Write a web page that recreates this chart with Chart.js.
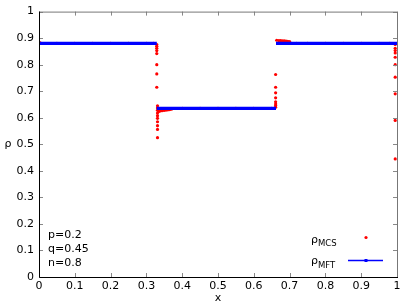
<!DOCTYPE html>
<html>
<head>
<meta charset="utf-8">
<script src="https://cdn.jsdelivr.net/npm/chart.js@4/dist/chart.umd.min.js"></script>
<style>
  html, body { margin: 0; padding: 0; background: #fff; }
  #wrap { width: 409px; height: 307px; }
</style>
</head>
<body>
<div id="wrap"><canvas id="myChart"></canvas></div>
<script>
// tick labels
var xTicks = [0, 0.1, 0.2, 0.3, 0.4, 0.5, 0.6, 0.7, 0.8, 0.9, 1];
var yTicks = [0, 0.1, 0.2, 0.3, 0.4, 0.5, 0.6, 0.7, 0.8, 0.9, 1];

// mean field profile (null = break between segments)
var mftX = [0, 0.329, 0.33, 0.329, 0.662, 0.663, 0.662, 1];
var mftY = [0.88, 0.88, null, 0.635, 0.635, null, 0.88, 0.88];

// Monte Carlo points
var mcsX = [0, 0.003, 0.05, 0.1, 0.15, 0.2, 0.25, 0.3, 0.32,
  0.329, 0.329, 0.329, 0.329, 0.329, 0.329, 0.329, 0.329,
  0.331, 0.331, 0.331, 0.331, 0.331, 0.331, 0.331, 0.331, 0.331, 0.331,
  0.335, 0.34, 0.345, 0.35, 0.355, 0.36, 0.365, 0.37,
  0.4, 0.45, 0.5, 0.55, 0.6, 0.65,
  0.661, 0.661, 0.661, 0.661, 0.661, 0.661, 0.661, 0.661,
  0.664, 0.67, 0.675, 0.68, 0.685, 0.69, 0.695, 0.70,
  0.72, 0.75, 0.8, 0.85, 0.9, 0.95, 0.98,
  0.995, 0.995, 0.995, 0.995, 0.995, 0.995, 0.995, 0.995, 0.995, 0.995];
var mcsY = [0.884, 0.882, 0.88, 0.88, 0.88, 0.88, 0.88, 0.88, 0.88,
  0.876, 0.869, 0.862, 0.853, 0.842, 0.80, 0.765, 0.715,
  0.645, 0.637, 0.628, 0.618, 0.608, 0.598, 0.585, 0.570, 0.556, 0.525,
  0.624, 0.626, 0.627, 0.628, 0.629, 0.63, 0.631, 0.632,
  0.635, 0.635, 0.635, 0.635, 0.635, 0.635,
  0.64, 0.646, 0.652, 0.66, 0.675, 0.694, 0.715, 0.763,
  0.892, 0.891, 0.891, 0.89, 0.89, 0.889, 0.888, 0.887,
  0.88, 0.88, 0.88, 0.88, 0.88, 0.88, 0.88,
  0.876, 0.862, 0.853, 0.844, 0.828, 0.80, 0.753, 0.69, 0.59, 0.445];

var params = ['p=0.2', 'q=0.45', 'n=0.8'];

function pts(xs, ys) {
  return xs.map(function (x, i) { return { x: x, y: ys[i] }; });
}

var FONT = '"DejaVu Sans", sans-serif';

// frame with inward ticks, axis titles, parameter text and legend
var decor = {
  id: 'decor',
  afterDraw: function (chart) {
    var c = chart.ctx, a = chart.chartArea;
    var sx = chart.scales.x, sy = chart.scales.y;
    c.save();
    c.lineWidth = 1;
    c.strokeStyle = '#888';
    c.beginPath();
    xTicks.forEach(function (v) {
      var px = Math.round(sx.getPixelForValue(v)) + 0.5;
      c.moveTo(px, a.bottom); c.lineTo(px, a.bottom - 4);
      c.moveTo(px, a.top); c.lineTo(px, a.top + 4);
    });
    yTicks.forEach(function (v) {
      var py = Math.round(sy.getPixelForValue(v)) + 0.5;
      c.moveTo(a.left, py); c.lineTo(a.left + 4, py);
      c.moveTo(a.right, py); c.lineTo(a.right - 4, py);
    });
    c.stroke();
    c.strokeStyle = '#777';
    c.beginPath();
    c.moveTo(a.left, a.top + 0.5); c.lineTo(a.right + 0.5, a.top + 0.5); c.lineTo(a.right + 0.5, a.bottom);
    c.stroke();
    c.strokeStyle = '#000';
    c.beginPath();
    c.moveTo(a.left + 0.5, a.top); c.lineTo(a.left + 0.5, a.bottom + 0.5); c.lineTo(a.right + 1, a.bottom + 0.5);
    c.stroke();

    c.fillStyle = '#000';
    c.font = '11px ' + FONT;
    c.textAlign = 'center';
    c.textBaseline = 'middle';
    c.fillText('x', (a.left + a.right) / 2, 298);
    c.fillText('\u03c1', 8, (a.top + a.bottom) / 2);

    c.textAlign = 'left';
    params.forEach(function (t, i) {
      c.fillText(t, a.left + 9, 235 + i * 14);
    });

    // legend
    c.textBaseline = 'alphabetic';
    c.font = '11px ' + FONT;
    c.fillText('\u03c1', 311, 242.5);
    c.fillText('\u03c1', 311, 264);
    c.font = '8.5px ' + FONT;
    c.fillText('MCS', 318, 245.5);
    c.fillText('MFT', 318, 267.5);

    c.fillStyle = '#f00';
    c.beginPath(); c.arc(366, 237.5, 1.6, 0, Math.PI * 2); c.fill();
    c.strokeStyle = '#00f';
    c.lineWidth = 1.5;
    c.beginPath(); c.moveTo(348, 260.5); c.lineTo(383, 260.5); c.stroke();
    c.fillStyle = '#00f';
    c.fillRect(364.5, 259, 3, 3);
    c.restore();
  }
};

var ctx = document.getElementById('myChart').getContext('2d');
var myChart = new Chart(ctx, {
  type: 'scatter',
  data: {
    datasets: [{
      label: 'MFT',
      data: pts(mftX, mftY),
      showLine: true,
      spanGaps: false,
      borderColor: '#0000ff',
      backgroundColor: '#0000ff',
      borderWidth: 3.2,
      pointRadius: 0,
      order: 1
    }, {
      label: 'MCS',
      data: pts(mcsX, mcsY),
      borderColor: '#ff0000',
      backgroundColor: '#ff0000',
      borderWidth: 0,
      pointRadius: 1.6,
      order: 2
    }]
  },
  options: {
    responsive: true,
    maintainAspectRatio: false,
    animation: false,
    layout: { padding: { left: 0, right: 12, top: 10, bottom: 0 } },
    plugins: {
      legend: { display: false },
      tooltip: { enabled: false }
    },
    scales: {
      x: {
        type: 'linear',
        min: 0, max: 1,
        grid: { display: false, drawTicks: false },
        border: { display: false },
        afterBuildTicks: function (s) { s.ticks = xTicks.map(function (v) { return { value: v }; }); },
        afterFit: function (s) { s.height = 30; },
        ticks: {
          color: '#000', padding: 3, maxRotation: 0,
          font: { family: FONT, size: 11 },
          callback: function (v) { return String(v); }
        }
      },
      y: {
        type: 'linear',
        min: 0, max: 1,
        grid: { display: false, drawTicks: false },
        border: { display: false },
        afterBuildTicks: function (s) { s.ticks = yTicks.map(function (v) { return { value: v }; }); },
        afterFit: function (s) { s.width = 39; },
        ticks: {
          color: '#000', padding: 5,
          font: { family: FONT, size: 11 },
          callback: function (v) { return String(v); }
        }
      }
    }
  },
  plugins: [decor]
});
</script>
</body>
</html>
